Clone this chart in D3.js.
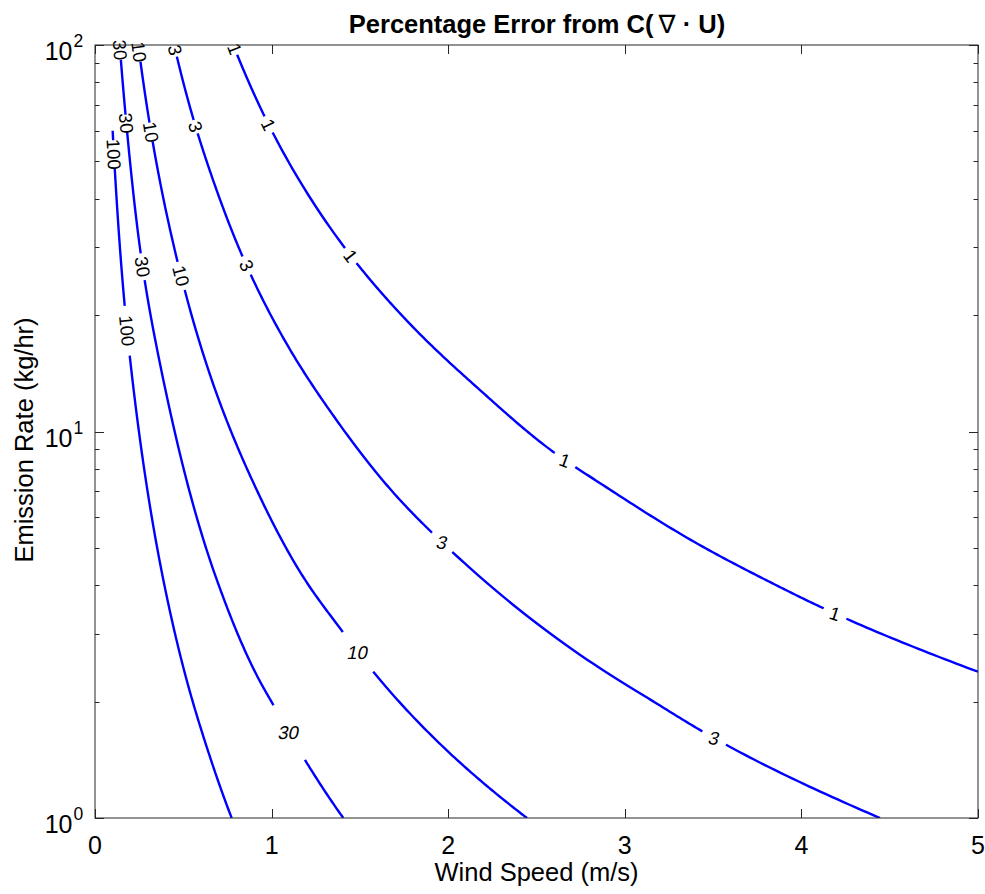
<!DOCTYPE html>
<html><head><meta charset="utf-8">
<script src="https://cdn.jsdelivr.net/npm/d3@7"></script>
<style>
body{margin:0;background:#fff}
svg text{font-family:"Liberation Sans",Arial,Helvetica,sans-serif;fill:#000}
</style>
</head><body>
<svg id="chart" width="985" height="894"></svg>
<script>
// ---------------- data ----------------
const contourLevels = [1, 3, 10, 30, 100];

const windSpeed_1  = [0.783, 0.97, 1.416, 1.802, 2.180, 2.605, 2.860, 3.46, 3.803, 4.124, 5.0];
const emission_1   = [100, 64, 29.8, 18.6, 12.8, 8.79, 7.35, 4.98, 4.12, 3.49, 2.39];

const windSpeed_3  = [0.448, 0.55, 0.668, 0.838, 1.104, 1.331, 1.727, 1.959, 2.860, 3.133, 3.505, 4.445];
const emission_3   = [100, 66, 44.8, 28.2, 16.3, 11.3, 6.65, 5.2, 2.44, 2.04, 1.61, 1];

const windSpeed_10 = [0.245, 0.306, 0.465, 0.661, 0.889, 1.19, 1.403, 1.576, 2.010, 2.446];
const emission_10  = [100, 64, 27.8, 13.6, 7.5, 4.13, 3.03, 2.39, 1.47, 1];

const windSpeed_30 = [0.140, 0.174, 0.262, 0.387, 0.69, 0.93, 1.010, 1.189, 1.406];
const emission_30  = [100, 65.2, 28.2, 13.6, 4.13, 2.275, 1.96, 1.413, 1];

const windSpeed_100 = [0.1, 0.168, 0.226, 0.387, 0.519, 0.632, 0.774];
const emission_100  = [60, 21.2, 12.05, 4.13, 2.275, 1.53, 1];

// contour labels: level, wind speed, emission rate where each label sits
const labelLevel    = [1, 1, 1, 1, 1,   3, 3, 3, 3, 3,   10, 10, 10, 10,   30, 30, 30, 30,   100, 100];
const labelWind     = [0.787, 0.977, 1.449, 2.661, 4.190,   0.453, 0.570, 0.855, 1.959, 3.505,
                       0.2435, 0.320, 0.491, 1.489,   0.1416, 0.1755, 0.2735, 1.0985,   0.1048, 0.170];
const labelEmission = [97.6, 62.1, 28.5, 8.41, 3.38,   97.1, 61.5, 26.8, 5.12, 1.61,
                       95.9, 59.6, 25.3, 2.69,   97.1, 62.7, 26.7, 1.664,   52.2, 18.2];

const xTickValues = [0, 1, 2, 3, 4, 5];
const yTickValues = [1, 10, 100];
const yTickExponents = ["0", "1", "2"];

const titleMain = "Percentage Error from C(\u2009";
const titleNabla = "\u2207";
const titleEnd = " \u00B7 U)";
const xLabelText = "Wind Speed (m/s)";
const yLabelText = "Emission Rate (kg/hr)";

// ---------------- styling for labels (not data) ----------------
const labelGapPx  = [13, 18, 19, 25, 25,   14, 14, 20, 28, 27,   20, 19, 29, 50,   20, 17, 27, 63,   28, 50];
const labelRotFix = [null, null, null, 20, 18,   null, null, null, 8, 8,   null, null, null, 0,   null, null, null, 0,   null, null];
const labelSkew   = [0,0,0,0,0,  0,0,0,-10,-10,  0,0,0,-12,  0,0,0,-12,  0,0];

// ---------------- chart ----------------
const W = 985, H = 894;
const plot = {left: 95, right: 978, top: 45, bottom: 818};
const axisColor = "#262626";

const x = d3.scaleLinear().domain([0, 5]).range([plot.left, plot.right]);
const y = d3.scaleLog().domain([1, 100]).range([plot.bottom, plot.top]);

const svg = d3.select("#chart");
const defs = svg.append("defs");
defs.append("clipPath").attr("id", "plotClip")
  .append("rect").attr("x", plot.left).attr("y", plot.top)
  .attr("width", plot.right - plot.left).attr("height", plot.bottom - plot.top);

const series = [
  {level: 1, u: windSpeed_1, e: emission_1},
  {level: 3, u: windSpeed_3, e: emission_3},
  {level: 10, u: windSpeed_10, e: emission_10},
  {level: 30, u: windSpeed_30, e: emission_30},
  {level: 100, u: windSpeed_100, e: emission_100}
];

// smooth rendering: cubic Hermite (weighted-secant tangents) in log-log space, mapped through the scales
function smoothScreenPoints(us, es, steps) {
  const X = us.map(Math.log), Y = es.map(Math.log);
  const n = X.length;
  const h = [], s = [];
  for (let i = 0; i < n - 1; i++) { h.push(X[i + 1] - X[i]); s.push((Y[i + 1] - Y[i]) / h[i]); }
  const m = new Array(n);
  m[0] = s[0]; m[n - 1] = s[n - 2];
  for (let i = 1; i < n - 1; i++) m[i] = (s[i - 1] * h[i] + s[i] * h[i - 1]) / (h[i - 1] + h[i]);
  const out = [];
  for (let i = 0; i < n - 1; i++) {
    for (let k = 0; k < steps; k++) {
      const t = k / steps, t2 = t * t, t3 = t2 * t;
      const h00 = 2 * t3 - 3 * t2 + 1, h10 = t3 - 2 * t2 + t, h01 = -2 * t3 + 3 * t2, h11 = t3 - t2;
      const lx = X[i] + t * h[i];
      const ly = h00 * Y[i] + h10 * h[i] * m[i] + h01 * Y[i + 1] + h11 * h[i] * m[i + 1];
      out.push([x(Math.exp(lx)), y(Math.exp(ly))]);
    }
  }
  out.push([x(us[n - 1]), y(es[n - 1])]);
  return out;
}

const line = d3.line();
const gLines = svg.append("g").attr("clip-path", "url(#plotClip)");
const gLabels = svg.append("g");

series.forEach((s, si) => {
  const pts = smoothScreenPoints(s.u, s.e, 30);
  const mask = defs.append("mask").attr("id", "gap" + si)
    .attr("maskUnits", "userSpaceOnUse")
    .attr("x", 0).attr("y", 0).attr("width", W).attr("height", H);
  mask.append("rect").attr("x", 0).attr("y", 0).attr("width", W).attr("height", H).attr("fill", "white");

  const path = gLines.append("path")
    .attr("d", line(pts))
    .attr("fill", "none")
    .attr("stroke", "#0000ff")
    .attr("stroke-width", 2.4)
    .attr("stroke-linejoin", "round")
    .attr("mask", "url(#gap" + si + ")");

  const node = path.node();
  const total = node.getTotalLength();
  const samples = [];
  for (let L = 0; L <= total; L += 0.5) {
    const p = node.getPointAtLength(L);
    samples.push([L, p.x, p.y]);
  }

  labelLevel.forEach((lv, k) => {
    if (lv !== s.level) return;
    const tx = x(labelWind[k]), ty = y(labelEmission[k]);
    let best = samples[0], bd = Infinity;
    samples.forEach(sm => {
      const d = (sm[1] - tx) ** 2 + (sm[2] - ty) ** 2;
      if (d < bd) { bd = d; best = sm; }
    });
    const L = best[0];
    const p1 = node.getPointAtLength(Math.max(0, L - 3));
    const p2 = node.getPointAtLength(Math.min(total, L + 3));
    let ang = Math.atan2(p2.y - p1.y, p2.x - p1.x) * 180 / Math.PI;
    if (ang > 90) ang -= 180;
    if (ang < -90) ang += 180;
    const cx = best[1], cy = best[2];
    const g = labelGapPx[k];
    mask.append("rect")
      .attr("transform", `translate(${cx},${cy}) rotate(${ang})`)
      .attr("x", -g / 2).attr("y", -8).attr("width", g).attr("height", 16)
      .attr("fill", "black");
    const rot = labelRotFix[k] === null ? ang : labelRotFix[k];
    gLabels.append("text")
      .attr("transform", `translate(${cx},${cy}) rotate(${rot}) skewX(${labelSkew[k]})`)
      .attr("text-anchor", "middle")
      .attr("dy", "0.36em")
      .attr("font-size", 18.5)
      .text(lv);
  });
});

// frame
svg.append("rect")
  .attr("x", plot.left).attr("y", plot.top)
  .attr("width", plot.right - plot.left).attr("height", plot.bottom - plot.top)
  .attr("fill", "none").attr("stroke", axisColor).attr("stroke-width", 1);

// x ticks (bottom & top, inward)
const gTicks = svg.append("g").attr("stroke", axisColor).attr("stroke-width", 1);
xTickValues.forEach(v => {
  const px = Math.round(x(v)) + 0.5;
  gTicks.append("line").attr("x1", px).attr("x2", px).attr("y1", plot.bottom).attr("y2", plot.bottom - 9);
  gTicks.append("line").attr("x1", px).attr("x2", px).attr("y1", plot.top).attr("y2", plot.top + 9);
});
svg.append("g").selectAll("text").data(xTickValues).join("text")
  .attr("x", d => x(d)).attr("y", 854)
  .attr("text-anchor", "middle").attr("font-size", 25)
  .text(d => d3.format("d")(d));

// y ticks (log major + minor)
const minorVals = [];
[1, 10].forEach(dec => { for (let m = 2; m <= 9; m++) minorVals.push(dec * m); });
yTickValues.forEach(v => {
  const py = Math.round(y(v)) + 0.5;
  gTicks.append("line").attr("x1", plot.left).attr("x2", plot.left + 9).attr("y1", py).attr("y2", py);
  gTicks.append("line").attr("x1", plot.right).attr("x2", plot.right - 9).attr("y1", py).attr("y2", py);
});
minorVals.forEach(v => {
  const py = Math.round(y(v)) + 0.5;
  gTicks.append("line").attr("x1", plot.left).attr("x2", plot.left + 4.5).attr("y1", py).attr("y2", py);
  gTicks.append("line").attr("x1", plot.right).attr("x2", plot.right - 4.5).attr("y1", py).attr("y2", py);
});
yTickValues.forEach((v, i) => {
  const py = y(v);
  svg.append("text").attr("x", 72.5).attr("y", py + 15)
    .attr("text-anchor", "end").attr("font-size", 25).text("10");
  svg.append("text").attr("x", 73.5).attr("y", py + 2)
    .attr("text-anchor", "start").attr("font-size", 17.5).text(yTickExponents[i]);
});

// axis labels
svg.append("text").attr("x", (plot.left + plot.right) / 2).attr("y", 881)
  .attr("text-anchor", "middle").attr("font-size", 25.5).text(xLabelText);
svg.append("text").attr("transform", "translate(33,440) rotate(-90)")
  .attr("text-anchor", "middle").attr("font-size", 25.5).text(yLabelText);

// title
const title = svg.append("text").attr("x", 537).attr("y", 33)
  .attr("text-anchor", "middle").attr("font-size", 25.5).attr("font-weight", "bold");
title.append("tspan").text(titleMain);
title.append("tspan").attr("font-weight", "normal").attr("font-family", "'DejaVu Sans', sans-serif").text(titleNabla);
title.append("tspan").text(titleEnd);
</script>
</body></html>
